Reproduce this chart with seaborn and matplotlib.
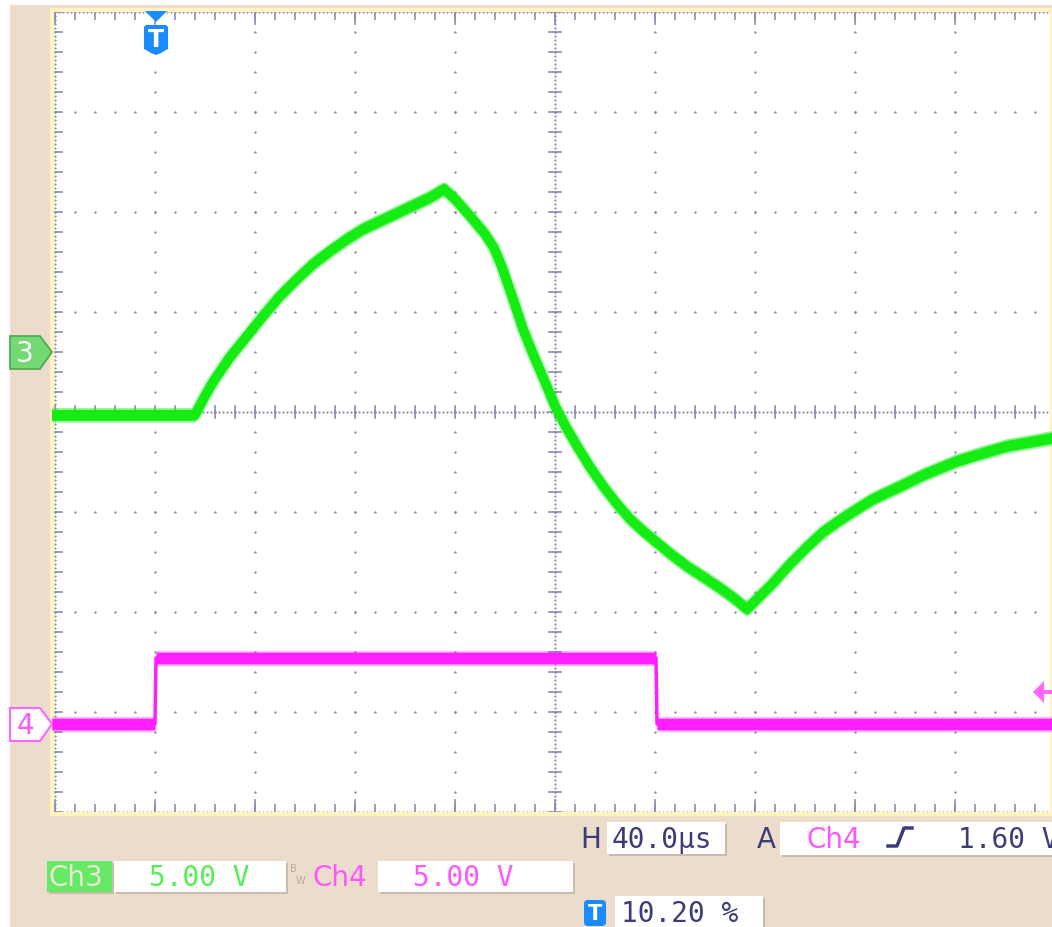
import numpy as np
import matplotlib
matplotlib.use("Agg")
import matplotlib.pyplot as plt
from matplotlib.patches import Polygon, Rectangle, FancyBboxPatch
import seaborn as sns

# Ch3 (green) trace: time in microseconds, voltage in volts
ch3_time = [-42.0, 15.2, 19.2, 22.4, 29.2, 36.0, 42.4, 49.2, 56.0, 62.4, 69.2, 76.0,
            82.4, 89.2, 96.0, 102.4, 109.2, 114.8,
            119.2, 125.2, 131.2, 134.8, 138.0, 142.4, 146.4, 150.4, 155.2, 159.2,
            163.6, 168.0, 173.2, 178.4, 184.0, 189.2, 194.4, 199.2, 206.0, 212.4,
            219.2, 225.2, 231.2, 236.0,
            241.2, 246.4, 253.2, 260.0, 266.4, 273.2, 280.0, 286.4, 293.2, 300.0,
            306.4, 313.2, 320.0, 326.4, 333.2, 340.0, 349.2, 358.0]
ch3_volt = [-3.15, -3.15, -2.2, -1.5, -0.25, 0.8, 1.8, 2.8, 3.65, 4.4, 5.05, 5.65,
            6.15, 6.55, 6.95, 7.33, 7.73, 8.15,
            7.65, 6.8, 5.9, 5.2, 4.25, 2.65, 1.15, -0.1, -1.5, -2.7,
            -3.75, -4.7, -5.75, -6.7, -7.6, -8.35, -8.95, -9.45, -10.15, -10.75,
            -11.3, -11.8, -12.35, -12.85,
            -12.2, -11.55, -10.6, -9.75, -9.0, -8.4, -7.85, -7.35, -6.95, -6.55,
            -6.15, -5.8, -5.45, -5.2, -4.95, -4.7, -4.5, -4.3]

# Ch4 (magenta) gate pulse
ch4_time = [-42.0, -0.8, -0.4, 199.6, 200.0, 358.0]
ch4_volt = [0.0, 0.0, 3.3, 3.3, 0.0, 0.0]

# scope settings
volts_per_div = 5.0
time_per_div = 40.0
trigger_pos = 1.02      # 10.20 % of 10 divisions
ch3_ground = 0.60       # divisions from centre
ch4_ground = -3.12

W, H = 1052, 928
TAN = "#ecdccb"
DOT = "#8a8ab2"
NAVY = "#3c3c78"
GREEN = "#14ec14"
MAGENTA = "#ff1eff"

fig = plt.figure(figsize=(W / 100, H / 100), dpi=100, facecolor=TAN)


def fx(px):
    return px / W


def fy(py):
    return 1 - py / H


def fp(pts):
    return [(fx(a), fy(b)) for a, b in pts]


# white margin strips of the screenshot
fig.add_artist(Rectangle((0, 0), fx(10), 1, transform=fig.transFigure, fc="white", ec="none", zorder=0))
fig.add_artist(Rectangle((0, fy(6)), 1, 1 - fy(6), transform=fig.transFigure, fc="white", ec="none", zorder=0))

ax = fig.add_axes([fx(52), fy(815), fx(1052) - fx(52), fy(11) - fy(815)])
ax.set_facecolor("white")
ax.set_xlim(-0.03, 9.97)
ax.set_ylim(-4.02, 4.02)
ax.set_xticks([])
ax.set_yticks([])
for s in ax.spines.values():
    s.set_color("#fff4c0")
    s.set_linewidth(3)

# graticule
minor = np.arange(-4, 4.001, 0.2)
minor_x = np.arange(0, 10.001, 0.2)
for k in range(1, 10):
    ax.scatter(np.full(minor.size, k), minor, s=3, color=DOT, lw=0, zorder=1)
for k in range(-3, 4):
    ax.scatter(minor_x, np.full(minor_x.size, k), s=3, color=DOT, lw=0, zorder=1)
dense_y = np.arange(-4, 4.001, 0.04)
dense_x = np.arange(0, 10.001, 0.04)
for xv in [5, 0, 10]:
    ax.scatter(np.full(dense_y.size, xv), dense_y, s=2.5, color=DOT, lw=0, zorder=1)
for yv in [0, -4, 4]:
    ax.scatter(dense_x, np.full(dense_x.size, yv), s=2.5, color=DOT, lw=0, zorder=1)
for v in minor:
    ax.plot([4.94, 5.06], [v, v], color=DOT, lw=1.2, zorder=1)
    ax.plot([0, 0.07], [v, v], color=DOT, lw=1.2, zorder=1)
for v in minor_x:
    ax.plot([v, v], [-0.06, 0.06], color=DOT, lw=1.2, zorder=1)
    ax.plot([v, v], [4, 3.93], color=DOT, lw=1.2, zorder=1)
    ax.plot([v, v], [-4, -3.93], color=DOT, lw=1.2, zorder=1)
for k in range(0, 11):
    ax.plot([k, k], [4, 3.88], color=DOT, lw=1.2, zorder=1)
    ax.plot([k, k], [-4, -3.88], color=DOT, lw=1.2, zorder=1)

# traces, converted to screen divisions
x3 = np.array(ch3_time) / time_per_div + trigger_pos
y3 = np.array(ch3_volt) / volts_per_div + ch3_ground
x4 = np.array(ch4_time) / time_per_div + trigger_pos
y4 = np.array(ch4_volt) / volts_per_div + ch4_ground

# green trace: broad persistence band
ax.fill_between(x3, y3 - 0.075, y3 + 0.075, color=GREEN, alpha=0.3, lw=0, zorder=3)
ax.fill_between(x3, y3 - 0.052, y3 + 0.052, color=GREEN, lw=0, zorder=3)
sns.lineplot(x=x3, y=y3, ax=ax, color=GREEN, lw=9.5, alpha=0.3, sort=False, estimator=None, zorder=3)
sns.lineplot(x=x3, y=y3, ax=ax, color=GREEN, lw=7, sort=False, estimator=None, zorder=4)
ax.lines[-1].set_solid_joinstyle("round")

# magenta trace: thin fast edges
ax.fill_between(x4, y4 - 0.078, y4 + 0.078, color=MAGENTA, alpha=0.3, lw=0, zorder=3)
ax.fill_between(x4, y4 - 0.058, y4 + 0.058, color=MAGENTA, lw=0, zorder=3)
sns.lineplot(x=x4, y=y4, ax=ax, color=MAGENTA, lw=2.5, sort=False, estimator=None, zorder=4)

# channel ground markers
fig.add_artist(Polygon(fp([(10, 337), (40, 337), (52, 353), (40, 370), (10, 370)]),
                       transform=fig.transFigure, fc="#74d874", ec="#4aa64a", lw=1.2))
fig.text(fx(25), fy(354), "3", color="white", fontsize=20, ha="center", va="center")
fig.add_artist(Polygon(fp([(10, 709), (40, 709), (52, 725), (40, 742), (10, 742)]),
                       transform=fig.transFigure, fc="white", ec="#ff66ff", lw=1.5))
fig.text(fx(25), fy(726), "4", color="#ff55ff", fontsize=20, ha="center", va="center")

# trigger position marker
BLUE = "#1a8cff"
fig.add_artist(Polygon(fp([(145, 12), (167, 12), (156, 23)]), transform=fig.transFigure, fc=BLUE, ec="none"))
fig.add_artist(Polygon(fp([(144, 28), (146, 26), (166, 26), (168, 28), (168, 50), (161, 54),
                           (156, 56), (151, 54), (144, 50)]), transform=fig.transFigure, fc=BLUE, ec="none"))
fig.text(fx(156), fy(40), "T", color="white", fontsize=17, fontweight="bold", ha="center", va="center")

# trigger level marker
fig.add_artist(Polygon(fp([(1033, 693), (1044, 682), (1044, 704)]), transform=fig.transFigure,
                       fc="#ff66ff", ec="none"))
fig.add_artist(Rectangle((fx(1043), fy(695)), fx(1052) - fx(1043), fy(691) - fy(695),
                         transform=fig.transFigure, fc="#ff66ff", ec="none"))


def box(x0, y0, x1, y1, fc="white"):
    fig.add_artist(Rectangle((fx(x0) + 0.0015, fy(y1) - 0.002), fx(x1) - fx(x0), fy(y0) - fy(y1),
                             transform=fig.transFigure, fc="#c8bcae", ec="none"))
    fig.add_artist(Rectangle((fx(x0), fy(y1)), fx(x1) - fx(x0), fy(y0) - fy(y1),
                             transform=fig.transFigure, fc=fc, ec="none"))


mono = dict(family="DejaVu Sans Mono", fontsize=20, va="center")
sans = dict(family="DejaVu Sans", fontsize=20, va="center")

# readout row: horizontal / trigger
fig.text(fx(580), fy(840), "H", color=NAVY, **sans)
box(607, 823, 725, 855)
fig.text(fx(612), fy(840), "40.0µs", color=NAVY, **mono)
fig.text(fx(757), fy(840), "A", color=NAVY, **sans)
box(780, 823, 1060, 856)
fig.text(fx(806), fy(840), "Ch4", color="#ff55ff", **sans)
fig.add_artist(plt.Line2D([fx(888), fx(897), fx(904), fx(912)], [fy(847), fy(847), fy(829), fy(829)],
                          transform=fig.transFigure, color=NAVY, lw=2.5))
fig.text(fx(958), fy(840), "1.60 V", color=NAVY, **mono)

# readout row: channel scales
box(47, 862, 112, 893, fc="#66ea66")
fig.text(fx(49), fy(878), "Ch3", color="#ece4d4", **sans)
box(114, 862, 286, 893)
fig.text(fx(149), fy(878), "5.00 V", color="#55ee55", **mono)
fig.text(fx(290), fy(869), "B", color="#b8a890", fontsize=7, family="DejaVu Sans", va="center")
fig.text(fx(296), fy(881), "W", color="#b8a890", fontsize=7, family="DejaVu Sans", va="center")
fig.text(fx(313), fy(878), "Ch4", color="#ff55ff", **sans)
box(378, 862, 573, 893)
fig.text(fx(413), fy(878), "5.00 V", color="#ff55ff", **mono)

# readout row: trigger position
fig.add_artist(FancyBboxPatch((fx(584), fy(927)), fx(606) - fx(584), fy(901) - fy(927),
                              boxstyle="round,pad=0,rounding_size=0.004", transform=fig.transFigure,
                              fc=BLUE, ec="none"))
fig.text(fx(595), fy(914), "T", color="white", fontsize=15, fontweight="bold", ha="center", va="center")
box(615, 897, 763, 935)
fig.text(fx(621), fy(914), "10.20 %", color=NAVY, **mono)

fig.savefig("out.png", dpi=100, facecolor=TAN)
